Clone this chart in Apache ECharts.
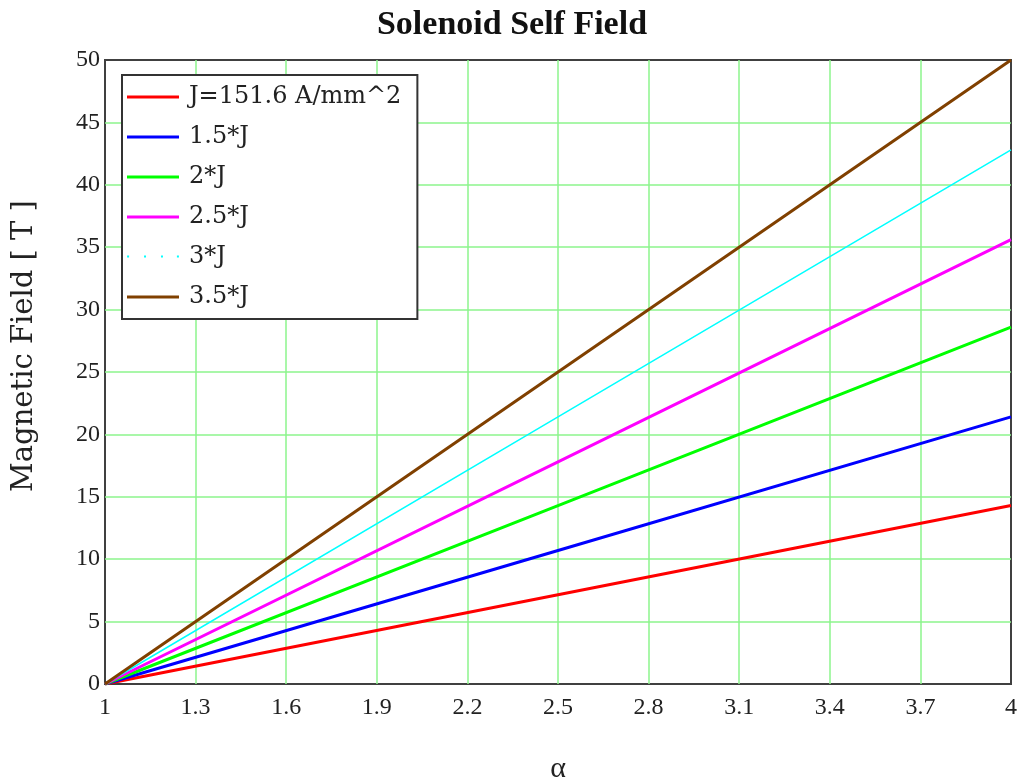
<!DOCTYPE html>
<html>
<head>
<meta charset="utf-8">
<title>Solenoid Self Field</title>
<script src="https://cdn.jsdelivr.net/npm/echarts@6/dist/echarts.min.js"></script>
<style>
  html, body { margin: 0; padding: 0; background: #fff; }
  #chart { width: 1024px; height: 783px; }
</style>
</head>
<body>
<div id="chart"></div>
<script>
const alpha = [1, 2.5, 4];
// magnetic field [T] for each current density
const fieldJ = [0, 7.15, 14.3];
const field15J = [0, 10.7, 21.4];
const field2J = [0, 14.3, 28.6];
const field25J = [0, 17.8, 35.6];
const field3J = [0, 21.4, 42.8];
const field35J = [0, 25.0, 50.0];
const seriesNames = ["J=151.6 A/mm^2", "1.5*J", "2*J", "2.5*J", "3*J", "3.5*J"];

const serif = "Liberation Serif";
const colors = ["#ff0000", "#0000ff", "#00ff00", "#ff00ff", "#00ffff", "#804000"];
const widths = [3, 3, 3, 3, 1.5, 3];
const fields = [fieldJ, field15J, field2J, field25J, field3J, field35J];

// legend icons: a solid bar, and a dotted one for 3*J
const solidIcon = "path://M0,0H52V3H0Z";
const dottedIcon = "path://M0,0H2V2H0Z M17,0H19V2H17Z M34,0H36V2H34Z M50,0H52V2H50Z M0,3H0.01V3.01H0Z";

const chart = echarts.init(document.getElementById("chart"));

const series = seriesNames.map((name, i) => ({
  name: name,
  type: "line",
  symbol: "none",
  showSymbol: false,
  animation: false,
  lineStyle: { color: colors[i], width: widths[i] },
  itemStyle: { color: colors[i] },
  data: alpha.map((a, k) => [a, fields[i][k]]),
}));

const option = {
  title: {
    text: "Solenoid Self Field",
    left: "center",
    top: 3,
    textStyle: { fontFamily: serif, fontSize: 34, fontWeight: "bold", color: "#111" },
  },
  legend: {
    orient: "vertical",
    left: 122,
    top: 75,
    padding: [8, 16, 8, 5],
    backgroundColor: "#fff",
    borderColor: "#333",
    borderWidth: 2,
    itemWidth: 52,
    itemHeight: 3,
    itemGap: 12,
    symbolKeepAspect: true,
    textStyle: {
      fontFamily: "DejaVu Serif",
      fontSize: 24,
      color: "#222",
      lineHeight: 28,
      padding: [0, 0, 0, 5],
    },
    data: seriesNames.map((n, i) => ({
      name: n,
      icon: i === 4 ? dottedIcon : solidIcon,
      itemStyle: { color: colors[i] },
    })),
  },
  grid: {
    left: 105,
    right: 13,
    top: 60,
    bottom: 99,
    show: true,
    borderColor: "#404040",
    borderWidth: 2,
    containLabel: false,
    outerBoundsMode: "none",
  },
  xAxis: {
    type: "value",
    min: 1,
    max: 4,
    interval: 0.3,
    name: "α",
    nameLocation: "middle",
    nameGap: 70,
    nameTextStyle: { fontFamily: serif, fontSize: 30, color: "#222" },
    axisLine: { show: false },
    axisTick: { show: false },
    axisLabel: {
      fontFamily: serif,
      fontSize: 24,
      color: "#222",
      margin: 12,
      formatter: (v) => String(Math.round(v * 10) / 10),
    },
    splitLine: {
      show: true,
      showMinLine: false,
      showMaxLine: false,
      lineStyle: { color: "#8cf58c", width: 1.5 },
    },
  },
  yAxis: {
    type: "value",
    min: 0,
    max: 50,
    interval: 5,
    name: "Magnetic Field [ T ]",
    nameLocation: "middle",
    nameGap: 66,
    nameTextStyle: {
      fontFamily: "DejaVu Serif",
      fontSize: 29,
      color: "#222",
      padding: [0, 0, 0, 52],
    },
    axisLine: { show: false },
    axisTick: { show: false },
    axisLabel: { fontFamily: serif, fontSize: 24, color: "#222", margin: 5 },
    splitLine: {
      show: true,
      showMinLine: false,
      showMaxLine: false,
      lineStyle: { color: "#8cf58c", width: 1.5 },
    },
  },
  series: series,
};

chart.setOption(option);
</script>
</body>
</html>
